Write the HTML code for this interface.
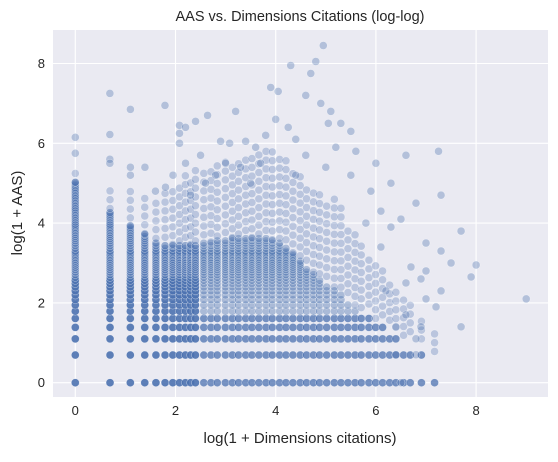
<!DOCTYPE html>
<html><head><meta charset="utf-8"><style>
body{margin:0;background:#fff;}
svg text{font-family:"Liberation Sans","DejaVu Sans",sans-serif;fill:#262626;}
</style></head><body>
<svg id="chart" width="558" height="457" xmlns="http://www.w3.org/2000/svg">
<rect x="53" y="30" width="495" height="367" fill="#eaeaf2"/>
<g id="grid"></g>
<g id="pts"></g>
<g id="ticks"></g>
<text x="300" y="21" font-size="14.5" text-anchor="middle">AAS vs. Dimensions Citations (log-log)</text>
<text x="300" y="443" font-size="15" text-anchor="middle">log(1 + Dimensions citations)</text>
<text transform="translate(22,213) rotate(-90)" font-size="15" text-anchor="middle">log(1 + AAS)</text>
</svg>
<script>
const xTicks=[0,2,4,6,8];
const yTicks=[0,2,4,6,8];
const cites=[0,1,2,3,4,5,6,7,8,9,10,12,14,16,19,22,25,29,33,38,44,50,58,66,76,88,100,115,130,150,175,200,230,265,300,350,400,460,530,600,700,800,1000,1300];
const denseMax=[150,70,50,40,32,30,30,30,30,30,30,32,32,34,34,36,36,36,36,36,36,34,32,28,24,20,16,14,12,10,9,8,6,5,4,4,3,3,2,2,1,1,1,0];
const sparseMax=[5.3,5.0,4.8,4.8,4.6,4.8,5.0,5.0,5.2,5.2,5.4,5.4,5.5,5.5,5.6,5.6,5.6,5.7,5.7,5.8,5.8,5.8,5.6,5.6,5.4,5.2,5.0,4.8,4.8,4.6,4.6,4.4,4.0,3.8,3.6,3.2,3.0,2.8,2.6,2.4,2.2,2.0,1.6,1.4];
const outX=[0,0,0.69,0.69,0.69,0.69,1.1,1.1,1.1,1.39,1.79,2.08,2.08,2.08,2.2,2.4,2.64,1.95,2.2,2.5,2.9,3.2,3.08,3.4,3.6,3.9,4.05,4.3,4.7,4.8,4.95,4.9,4.6,5.1,5.05,5.3,5.5,4.0,4.25,4.4,3.8,5.2,5.6,6.0,6.6,7.25,7.3,6.8,7.0,7.3,7.7,7.5,8.0,7.9,9.0,7.7,7.3,7.0,6.9,7.2,6.5,6.3,5.9,6.3,5.5,5.0,4.6,3.7,3.0,2.8,6.9,6.6,6.6,6.1,6.7,7.0,6.8,6.8,6.1,5.8,4.4,3.3,3.5,2.6,2.3,1.8,1.6,6.2,6.4,6.5,6.4];
const outY=[6.15,5.75,7.25,6.22,5.6,5.5,6.85,5.4,5.2,5.4,6.95,6.45,6.25,6.0,6.4,6.55,6.7,5.2,5.5,5.7,6.05,6.8,6.0,6.05,5.9,7.4,7.3,7.95,7.75,8.05,8.45,7.0,7.2,6.8,6.5,6.5,6.3,6.6,6.4,6.1,6.2,5.9,5.8,5.5,5.7,5.8,4.7,4.5,3.5,3.3,3.8,3.0,2.95,2.65,2.1,1.4,2.3,2.8,2.6,1.9,4.1,3.9,4.8,5.0,5.2,5.4,5.7,5.5,5.5,5.2,1.4,1.7,2.5,3.4,2.9,2.1,1.1,0.7,4.3,4.0,5.2,5.4,5.0,5.0,4.7,4.9,4.8,2.3,1.4,0.0,0.7];
const NS="http://www.w3.org/2000/svg";
const X=v=>75.3+v*50.1;
const Y=v=>382.7-v*39.9;
function mk(tag,attrs,parent){const e=document.createElementNS(NS,tag);for(const k in attrs)e.setAttribute(k,attrs[k]);parent.appendChild(e);return e;}
const grid=document.getElementById('grid'),pts=document.getElementById('pts'),tk=document.getElementById('ticks');
xTicks.forEach(t=>{
  const l=mk('line',{x1:X(t),x2:X(t),y1:30,y2:397,stroke:'#fff','stroke-width':1.1},grid);
  
  
  const s=mk('text',{x:X(t),y:415,'font-size':13,'text-anchor':'middle'},tk);s.textContent=t;
  
  
});
yTicks.forEach(t=>{
  const l=mk('line',{x1:53,x2:548,y1:Y(t),y2:Y(t),stroke:'#fff','stroke-width':1.1},grid);
  
  
  const s=mk('text',{x:45,y:Y(t)+4.5,'font-size':13,'text-anchor':'end'},tk);s.textContent=t;
  
  
});
function dot(xv,yv,op){
  const c=mk('circle',{cx:X(xv),cy:Y(yv),r:4,fill:'#4c72b0','fill-opacity':op,stroke:'#fff','stroke-width':0.5,'stroke-opacity':0.6},pts);
  
  
}
cites.forEach((n,i)=>{
  const xv=Math.log(1+n);let lastY=-10;
  for(let m=0;m<=denseMax[i];m++){
    const yv=Math.log(1+m);
    if(Y(lastY)-Y(yv)<1.5&&m>0)continue;
    lastY=yv;
    const op=(n<=10&&m<=12)?0.9:(n<=10?0.55:(m<=4?0.75:0.4));
    dot(xv,yv,op);
  }
  const start=Math.log(2+denseMax[i])+((i%3)*0.09);
  for(let yv=start;yv<=sparseMax[i];yv+=0.22){
    dot(xv,yv,0.3);
  }
});
outX.forEach((xv,i)=>dot(xv,outY[i],0.35));
</script>
</body></html>
